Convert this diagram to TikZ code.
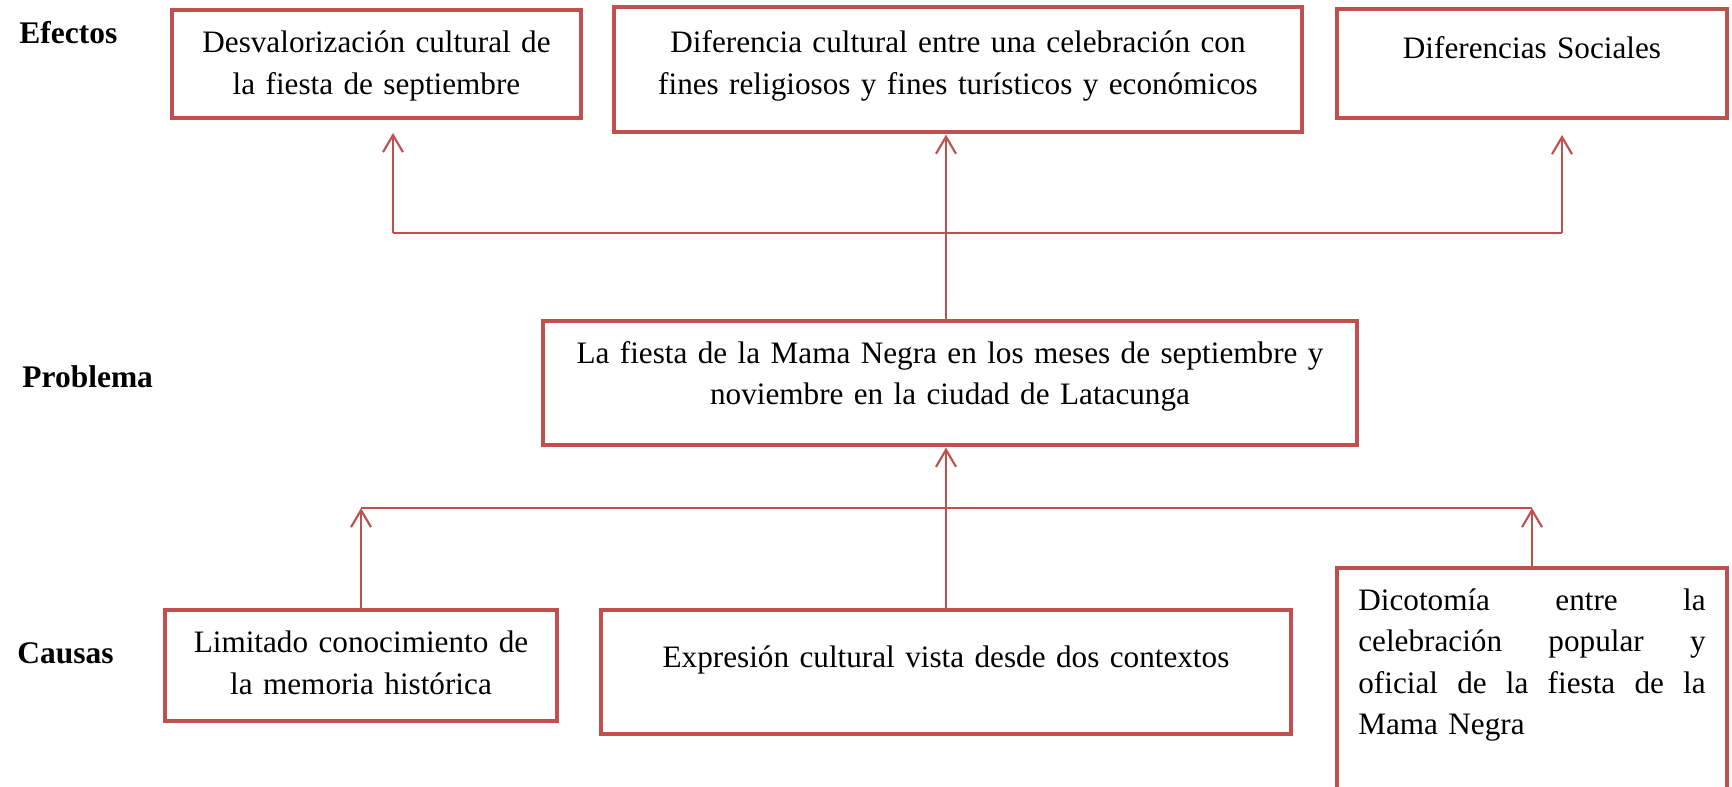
\documentclass[tikz,border=0pt]{standalone}
\usepackage{fontspec}
\setmainfont{Liberation Serif}
\usetikzlibrary{arrows.meta}
\definecolor{rojo}{HTML}{C0504D}

\tikzset{
  caja/.style 2 args={draw=rojo, line width=1.5pt, outer sep=0pt,
    inner xsep=8pt, inner ysep=0pt, anchor=north, align=center,
    text height=#1, text depth=#2,
    font=\fontsize{11.7pt}{15.6pt}\selectfont},
  nivel/.style={anchor=base west, font=\fontsize{11.8pt}{15.6pt}\selectfont\bfseries},
  linea/.style={draw=rojo, line width=0.8pt},
  flecha/.style={linea, -{Straight Barb[length=6.4pt,width=7.5pt]}},
}

\begin{document}
\begin{tikzpicture}[x=0.375pt, y=-0.375pt]
  \path[use as bounding box, clip] (0,0) rectangle (1732,787);

  \node[nivel] (efectos) at (10,44) {Efectos};
  \node[nivel] (problema) at (13,387) {Problema};
  \node[nivel] (causas) at (8,663) {Causas};

  \node[caja={16.1pt}{24.4pt}, text width=137.4pt] (e1) at (376.5,10)
    {Desvalorización cultural de\\ la fiesta de septiembre};
  \node[caja={17.25pt}{29.6pt}, text width=242pt] (e2) at (958,7)
    {Diferencia cultural entre una celebración con\\ fines religiosos y fines turísticos y económicos};
  \node[caja={18.75pt}{22.1pt}, text width=130.25pt] (e3) at (1532,9)
    {Diferencias Sociales};

  \node[caja={15.75pt}{30.75pt}, text width=289.25pt] (p) at (950,321)
    {La fiesta de la Mama Negra en los meses de septiembre y\\ noviembre en la ciudad de Latacunga};

  \node[caja={16.1pt}{25.5pt}, text width=131pt] (c1) at (361,610)
    {Limitado conocimiento de\\ la memoria histórica};
  \node[caja={21.4pt}{25.1pt}, text width=242.4pt] (c2) at (946,610)
    {Expresión cultural vista desde dos contextos};
  \node[caja={15.75pt}{86pt}, text width=130.25pt, align=left] (c3) at (1532,568)
    {Dicotomía\hfill entre\hfill la\\
     celebración\hfill popular\hfill y\\
     oficial\hfill de\hfill la\hfill fiesta\hfill de\hfill la\\
     Mama Negra};

  \coordinate (hs) at (0,233);
  \coordinate (hi) at (0,508);
  \coordinate (f1) at (393,133);
  \coordinate (f3) at (1562,135);

  \draw[linea] (f1 |- hs) -- (f3 |- hs);
  \draw[flecha] (f1 |- hs) -- (f1);
  \draw[flecha] (f3 |- hs) -- (f3);
  \draw[flecha, shorten >=1pt] (c2.north |- p.north) -- (c2.north |- e2.south);

  \draw[linea] (c1.north |- hi) -- (c3.north |- hi);
  \draw[flecha] (c1.north) -- (c1.north |- hi);
  \draw[flecha] (c3.north) -- (c3.north |- hi);
  \draw[flecha, shorten >=1pt] (c2.north) -- (c2.north |- p.south);
\end{tikzpicture}
\end{document}
